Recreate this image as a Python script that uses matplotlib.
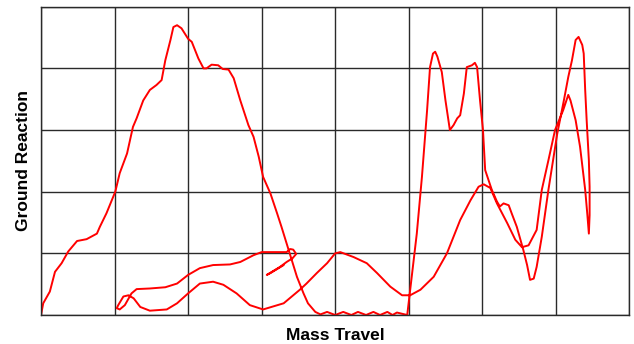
"""
Ground reaction vs. mass travel trace
single continuous pen path, grid 8 x 5 without tick labels
"""

import matplotlib
matplotlib.use('Agg')
import matplotlib.pyplot as plt

plt.rcParams['font.family'] = ['Liberation Sans', 'DejaVu Sans']

# path of the trace (x: mass travel, y: ground reaction), in grid units
mass_travel = [
    # rise to the big peak and fall back
    0.00, 0.03, 0.12, 0.19, 0.28, 0.37, 0.49, 0.62, 0.76, 0.80, 0.89, 1.01,
    1.07, 1.17, 1.25, 1.30, 1.39, 1.48, 1.57, 1.64, 1.69, 1.76, 1.80, 1.85,
    1.91, 2.00, 2.05, 2.14, 2.21, 2.25, 2.32, 2.41, 2.47, 2.55, 2.62, 2.71,
    2.82, 2.89, 2.96, 3.02, 3.12, 3.21, 3.27, 3.34, 3.41, 3.48, 3.57, 3.63,
    3.73,
    # ripples along the floor
    3.80, 3.89, 4.00, 4.11, 4.22, 4.31, 4.42, 4.52, 4.61, 4.71, 4.78, 4.84,
    # twin peak, dip, tall peak
    4.98, 5.02, 5.11, 5.18, 5.25, 5.29, 5.33, 5.36, 5.39, 5.45, 5.50, 5.56,
    5.61, 5.66, 5.70, 5.75, 5.79, 5.86, 5.90, 5.93, 5.97, 6.01, 6.04, 6.13,
    6.20, 6.24, 6.29, 6.36, 6.40, 6.47, 6.56, 6.61, 6.65, 6.70, 6.74, 6.81,
    6.90, 7.02, 7.11, 7.17, 7.22, 7.27, 7.31, 7.36, 7.38, 7.40, 7.42, 7.45,
    7.46, 7.46, 7.45,
    # return stroke
    7.43, 7.40, 7.33, 7.27, 7.20, 7.17, 7.10, 6.99, 6.90, 6.81, 6.74, 6.63,
    6.54, 6.45, 6.34, 6.20, 6.11, 6.02, 5.95, 5.84, 5.70, 5.52, 5.34, 5.16,
    5.02, 4.91, 4.75, 4.57, 4.43, 4.25, 4.07, 4.00, 3.89, 3.75, 3.61, 3.52,
    3.30, 3.02, 2.84, 2.66, 2.48, 2.34, 2.16, 2.00, 1.85, 1.71, 1.48, 1.35,
    1.26, 1.19, 1.12, 1.05, 1.03, 1.07, 1.14, 1.23, 1.30, 1.48, 1.69, 1.85,
    2.00, 2.16, 2.34, 2.57, 2.71, 2.89, 3.00, 3.16, 3.34, 3.39, 3.43, 3.47,
    3.42, 3.34, 3.25, 3.14, 3.07, 3.12, 3.23, 3.30,
]
ground_reaction = [
    0.00, 0.19, 0.38, 0.70, 0.84, 1.03, 1.20, 1.23, 1.32, 1.43, 1.65, 2.00,
    2.30, 2.62, 3.05, 3.19, 3.48, 3.65, 3.73, 3.81, 4.13, 4.46, 4.67, 4.70,
    4.65, 4.48, 4.43, 4.16, 4.00, 4.00, 4.06, 4.05, 3.99, 3.98, 3.84, 3.48,
    3.08, 2.89, 2.57, 2.24, 1.97, 1.65, 1.43, 1.16, 0.89, 0.62, 0.35, 0.19,
    0.05,
    0.01, 0.05, 0.00, 0.05, 0.00, 0.05, 0.00, 0.05, 0.00, 0.05, 0.00, 0.04,
    0.00, 0.41, 1.32, 2.24, 3.32, 4.02, 4.24, 4.27, 4.19, 3.94, 3.48, 3.00,
    3.08, 3.19, 3.24, 3.59, 4.02, 4.05, 4.09, 4.02, 3.48, 3.00, 2.35, 2.03,
    1.84, 1.76, 1.81, 1.78, 1.65, 1.43, 1.05, 0.81, 0.57, 0.59, 0.78, 1.27,
    2.03, 2.94, 3.48, 3.86, 4.13, 4.46, 4.51, 4.38, 4.24, 3.65, 3.16, 2.51,
    2.08, 1.62, 1.32,
    1.62, 2.03, 2.73, 3.16, 3.48, 3.57, 3.32, 3.00, 2.51, 2.03, 1.38, 1.13,
    1.10, 1.22, 1.49, 1.81, 2.06, 2.12, 2.08, 1.86, 1.54, 1.00, 0.62, 0.41,
    0.32, 0.32, 0.46, 0.68, 0.84, 0.94, 1.02, 1.00, 0.84, 0.68, 0.51, 0.41,
    0.19, 0.09, 0.16, 0.35, 0.49, 0.54, 0.51, 0.35, 0.19, 0.09, 0.07, 0.13,
    0.27, 0.32, 0.30, 0.16, 0.11, 0.09, 0.16, 0.35, 0.42, 0.43, 0.45, 0.51,
    0.65, 0.76, 0.81, 0.82, 0.86, 0.97, 1.02, 1.02, 1.02, 1.07, 1.06, 0.99,
    0.92, 0.86, 0.78, 0.70, 0.65, 0.68, 0.76, 0.81,
]

n_cols = 8
n_rows = 5

fig = plt.figure(figsize=(6.34, 3.44), dpi=100)
ax = fig.add_axes([0.0647, 0.0843, 0.9279, 0.8962])

ax.plot(mass_travel, ground_reaction, color='#ff0000', lw=1.4,
        solid_joinstyle='round', solid_capstyle='round')

ax.set_xlim(0, n_cols)
ax.set_ylim(0, n_rows)
ax.set_xticks(range(n_cols + 1))
ax.set_yticks(range(n_rows + 1))
ax.tick_params(length=0, labelbottom=False, labelleft=False)
ax.grid(True, color='#2a2a2a', lw=1.0)
for s in ax.spines.values():
    s.set_color('#2a2a2a')
    s.set_linewidth(1.0)

ax.set_xlabel('Mass Travel', fontsize=12.5, fontweight='bold', labelpad=9)
ax.set_ylabel('Ground Reaction', fontsize=12.5, fontweight='bold', labelpad=7)

plt.savefig('out.png', dpi=100)
plt.close()
